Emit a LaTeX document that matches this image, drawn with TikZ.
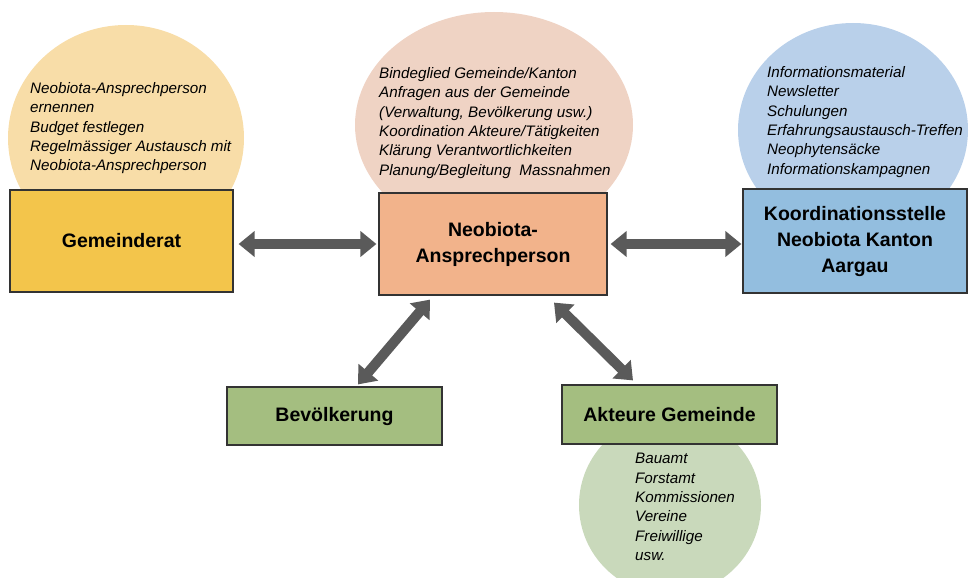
\documentclass[tikz,border=0pt]{standalone}
\usepackage{fontspec}
\setmainfont{Liberation Sans}
\usetikzlibrary{arrows.meta,calc}
\definecolor{yellowEll}{HTML}{F8DDA8}
\definecolor{yellowBox}{HTML}{F3C54B}
\definecolor{pinkEll}{HTML}{EFD3C4}
\definecolor{pinkBox}{HTML}{F2B38B}
\definecolor{blueEll}{HTML}{B9D0EA}
\definecolor{blueBox}{HTML}{93BEDF}
\definecolor{greenBox}{HTML}{A4BE80}
\definecolor{greenEll}{HTML}{C9D9BB}
\definecolor{arrowgray}{HTML}{5A5A5A}
\definecolor{boxline}{HTML}{333333}
\tikzset{
  mainbox/.style={draw=boxline, line width=1.2pt, rectangle, align=center,
    inner sep=0pt, font=\fontsize{19.5}{26}\selectfont\bfseries},
  ellbg/.style={ellipse-free/.style={}},
  info/.style={anchor=north west, inner sep=0pt, align=left,
    font=\fontsize{15.2}{19.4}\selectfont\itshape},
  biarrow/.style={draw=arrowgray, line width=10pt,
    {Triangle[length=16pt,width=25pt]}-{Triangle[length=16pt,width=25pt]}}
}
\begin{document}
\begin{tikzpicture}[x=1pt,y=-1pt]
\useasboundingbox (0,0) rectangle (970,578);
\clip (0,0) rectangle (970,578);
% ellipses
\fill[yellowEll] (126,138) ellipse [x radius=118, y radius=113];
\fill[pinkEll] (494,125) ellipse [x radius=139, y radius=113];
\fill[blueEll] (853,130) ellipse [x radius=115, y radius=107];
\fill[greenEll] (670,505) ellipse [x radius=91, y radius=90];
% info texts
\node[info] (tger) at (30,82) {Neobiota-Ansprechperson\\ernennen\\Budget festlegen\\Regelmässiger Austausch mit\\Neobiota-Ansprechperson};
\node[info] (tnap) at (379,67) {Bindeglied Gemeinde/Kanton\\Anfragen aus der Gemeinde\\(Verwaltung, Bevölkerung usw.)\\Koordination Akteure/Tätigkeiten\\Klärung Verantwortlichkeiten\\Planung/Begleitung~ Massnahmen};
\node[info] (tkos) at (767,66) {Informationsmaterial\\Newsletter\\Schulungen\\Erfahrungsaustausch-Treffen\\Neophytensäcke\\Informationskampagnen};
\node[info] (takt) at (635,453) {Bauamt\\Forstamt\\Kommissionen\\Vereine\\Freiwillige\\usw.};
% boxes
\node[mainbox, fill=yellowBox, minimum width=223pt, minimum height=102pt] (ger) at (121.5,241) {Gemeinderat};
\node[mainbox, fill=pinkBox, minimum width=228pt, minimum height=102pt] (nap) at (493,244) {Neobiota-\\Ansprechperson};
\node[mainbox, fill=blueBox, minimum width=224pt, minimum height=104pt] (kos) at (855,241) {Koordinationsstelle\\Neobiota Kanton\\Aargau};
\node[mainbox, fill=greenBox, minimum width=215pt, minimum height=58pt] (bev) at (334.5,416) {Bevölkerung};
\node[mainbox, fill=greenBox, minimum width=215pt, minimum height=59pt] (akt) at (669.5,414.5) {Akteure Gemeinde};
% arrows
\draw[biarrow] ([xshift=5pt]ger.east |- nap.center) -- ([xshift=-2pt]nap.west);
\draw[biarrow] ([xshift=3pt]nap.east) -- ([xshift=-1pt]kos.west |- nap.center);
\draw[biarrow] ($(nap.south)+(-63,4)$) -- ($(bev.north)+(23.5,-2)$);
\draw[biarrow] ($(nap.south)+(61,7)$) -- ($(akt.north)+(-36.5,-4)$);
\end{tikzpicture}
\end{document}
